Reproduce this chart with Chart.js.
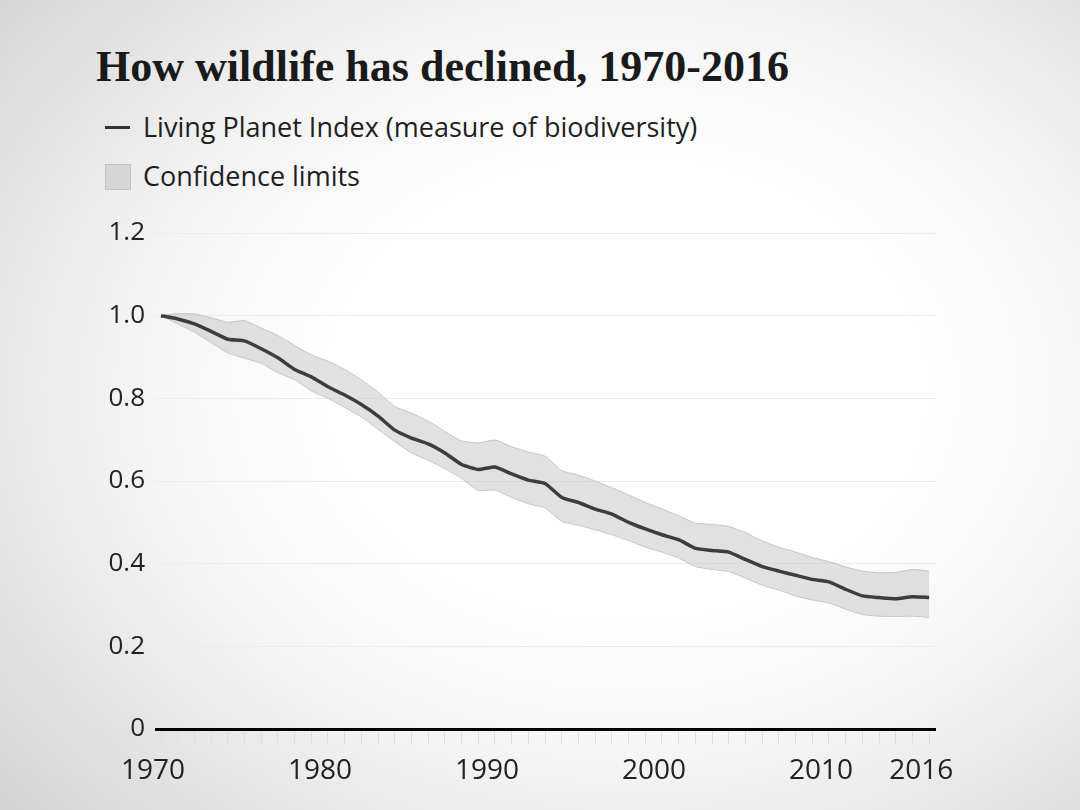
<!DOCTYPE html>
<html>
<head>
<meta charset="utf-8">
<script src="https://cdn.jsdelivr.net/npm/chart.js@4"></script>
<style>
  html, body { margin: 0; padding: 0; }
  body {
    width: 1080px; height: 810px; overflow: hidden; position: relative;
    background: radial-gradient(ellipse 78% 80% at 58% 48%, #ffffff 35%, #f3f3f3 60%, #d2d2d2 100%);
    font-family: "Open Sans", sans-serif;
  }
  #title {
    position: absolute; left: 96px; top: 40px;
    font-family: "Liberation Serif", serif; font-weight: bold; font-size: 44px;
    color: #1a1a1a; white-space: nowrap; line-height: 54px;
  }
  .leg { position: absolute; left: 105px; font-size: 27px; color: #1e1e1e; white-space: nowrap; }
  .leg .txt { position: absolute; left: 38px; top: -2px; line-height: 32px; }
  #leg1 { top: 113px; }
  #leg2 { top: 162px; }
  #leg1 .mark { position: absolute; left: 0; top: 13px; width: 25px; height: 3px; background: #333; }
  #leg2 .mark { position: absolute; left: 0; top: 2px; width: 24px; height: 24px; background: #d6d6d6; border: 1px solid #c2c2c2; }
  canvas { position: absolute; left: 0; top: 0; }
</style>
</head>
<body>
<div id="title">How wildlife has declined, 1970-2016</div>
<div class="leg" id="leg1"><div class="mark"></div><div class="txt">Living Planet Index (measure of biodiversity)</div></div>
<div class="leg" id="leg2"><div class="mark"></div><div class="txt">Confidence limits</div></div>
<canvas id="c" width="1080" height="810"></canvas>
<script>
const years = [1970,1971,1972,1973,1974,1975,1976,1977,1978,1979,
               1980,1981,1982,1983,1984,1985,1986,1987,1988,1989,
               1990,1991,1992,1993,1994,1995,1996,1997,1998,1999,
               2000,2001,2002,2003,2004,2005,2006,2007,2008,2009,
               2010,2011,2012,2013,2014,2015,2016];
const lpi = [1.000,0.992,0.980,0.962,0.943,0.939,0.920,0.898,0.870,0.852,
             0.828,0.808,0.785,0.757,0.723,0.704,0.690,0.668,0.640,0.628,
             0.634,0.617,0.602,0.594,0.560,0.548,0.532,0.520,0.500,0.484,
             0.470,0.458,0.437,0.432,0.428,0.410,0.393,0.382,0.372,0.362,
             0.356,0.338,0.322,0.318,0.315,0.320,0.318];
const upper = [1.000,1.005,1.004,0.995,0.984,0.988,0.970,0.952,0.928,0.905,
               0.890,0.870,0.845,0.815,0.780,0.764,0.745,0.720,0.697,0.692,
               0.699,0.683,0.670,0.660,0.625,0.614,0.600,0.584,0.566,0.548,
               0.532,0.516,0.498,0.495,0.490,0.475,0.455,0.440,0.428,0.415,
               0.405,0.392,0.382,0.378,0.379,0.386,0.382];
const lower = [1.000,0.980,0.960,0.935,0.910,0.897,0.885,0.862,0.845,0.818,
               0.800,0.778,0.755,0.725,0.695,0.668,0.650,0.630,0.606,0.577,
               0.578,0.560,0.545,0.535,0.502,0.493,0.482,0.470,0.456,0.440,
               0.428,0.414,0.393,0.386,0.381,0.365,0.348,0.336,0.322,0.312,
               0.305,0.290,0.277,0.273,0.272,0.273,0.270];
const xTickLabels = [1970, 1980, 1990, 2000, 2010, 2016];
const yTicks = [0, 0.2, 0.4, 0.6, 0.8, 1.0, 1.2];
const yTickLabels = ['0', '0.2', '0.4', '0.6', '0.8', '1.0', '1.2'];

const pts = arr => years.map((y, i) => ({x: y, y: arr[i]}));

new Chart(document.getElementById('c'), {
  type: 'line',
  data: {
    datasets: [
      { label: 'Living Planet Index (measure of biodiversity)', data: pts(lpi),
        borderColor: '#3d3d3d', borderWidth: 3.5, pointRadius: 0, fill: false, tension: 0.15 },
      { label: 'upper', data: pts(upper), borderColor: 'rgba(190,190,190,0.9)', borderWidth: 1,
        backgroundColor: 'rgba(200,200,200,0.55)', pointRadius: 0, fill: '+1', tension: 0.15 },
      { label: 'lower', data: pts(lower), borderColor: 'rgba(190,190,190,0.9)', borderWidth: 1,
        pointRadius: 0, fill: false, tension: 0.15 }
    ]
  },
  options: {
    responsive: false, animation: false,
    layout: { padding: { left: 0, right: 144, top: 233, bottom: 0 } },
    plugins: { legend: { display: false }, tooltip: { enabled: false } },
    scales: {
      x: {
        type: 'linear', min: 1969.64, max: 2016.41,
        afterBuildTicks: s => { s.ticks = years.map(v => ({ value: v })); },
        afterFit: s => { s.height = 81; },
        border: { display: false },
        grid: { drawOnChartArea: false, drawTicks: true, tickLength: 15, color: '#dedede', lineWidth: 1 },
        ticks: {
          autoSkip: false, maxRotation: 0, padding: 10, labelOffset: -8,
          color: '#222', font: { family: 'Open Sans', size: 28 },
          callback: v => xTickLabels.includes(v) ? String(v) : ''
        }
      },
      y: {
        min: 0, max: 1.2,
        afterBuildTicks: s => { s.ticks = yTicks.map(v => ({ value: v })); },
        afterFit: s => { s.width = 155; },
        border: { display: false },
        grid: {
          drawTicks: false,
          color: c => c.tick.value === 0 ? '#000000' : '#ececec',
          lineWidth: c => c.tick.value === 0 ? 3 : 1
        },
        ticks: {
          padding: 10, color: '#222', font: { family: 'Open Sans', size: 26 },
          callback: (v) => { const i = yTicks.findIndex(t => Math.abs(t - v) < 1e-9); return i >= 0 ? yTickLabels[i] : ''; }
        }
      }
    }
  }
});
</script>
</body>
</html>
